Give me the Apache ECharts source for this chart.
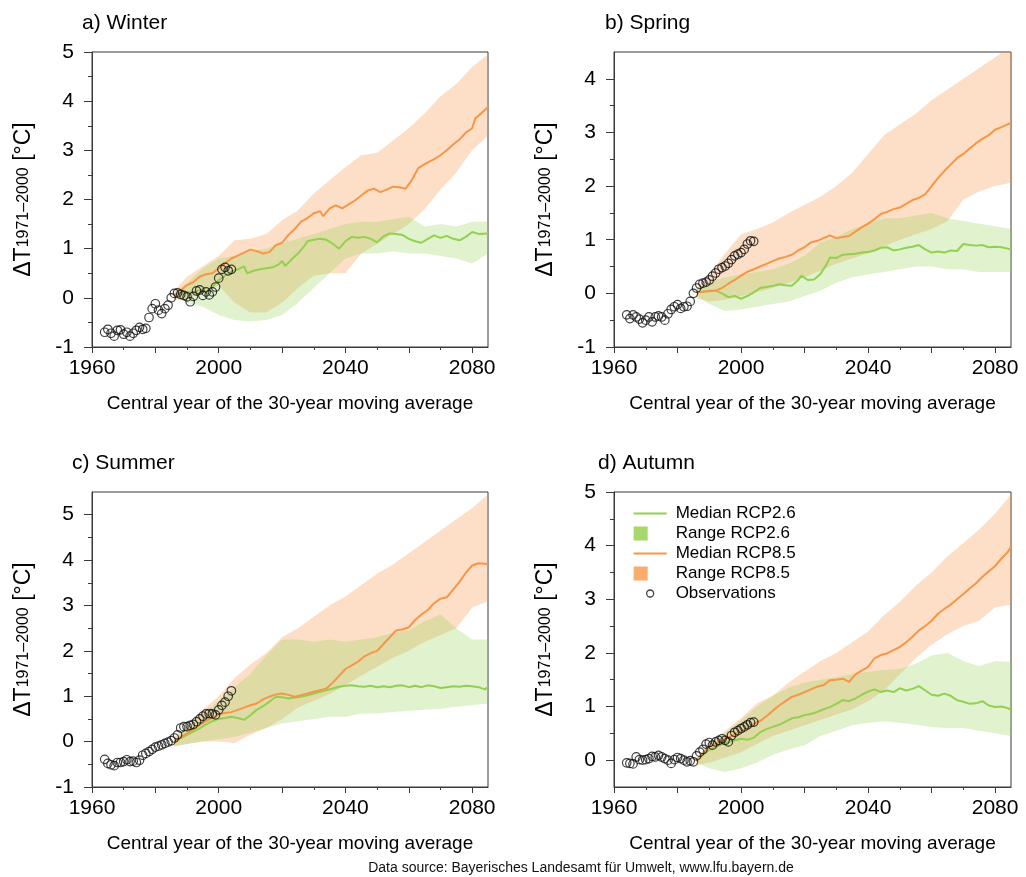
<!DOCTYPE html>
<html><head><meta charset="utf-8">
<script src="https://cdn.jsdelivr.net/npm/echarts@6/dist/echarts.min.js"></script>
<style>html,body{margin:0;padding:0;background:#fff}#c{width:1026px;height:877px}</style>
</head><body><div id="c"></div>
<script>
const FONT = "'Liberation Sans', Arial, sans-serif";

const panelTitles = ['a) Winter', 'b) Spring', 'c) Summer', 'd) Autumn'];
const xAxisName = 'Central year of the 30-year moving average';
const yAxisNameRich = '{a|ΔT}{b|1971–2000}{a| [°C]}';
const sourceText = 'Data source: Bayerisches Landesamt für Umwelt, www.lfu.bayern.de';

const xLabelValues = [1960, 2000, 2040, 2080];
const xMajorTicks = [1960, 1980, 2000, 2020, 2040, 2060, 2080];
const xMinorTicks = [1970, 1990, 2010, 2030, 2050, 2070];

const winterYTicks = [-1, 0, 1, 2, 3, 4, 5];
const winterYMinor = [-0.5, 0.5, 1.5, 2.5, 3.5, 4.5];
const springYTicks = [-1, 0, 1, 2, 3, 4];
const springYMinor = [-0.5, 0.5, 1.5, 2.5, 3.5];
const summerYTicks = [-1, 0, 1, 2, 3, 4, 5];
const summerYMinor = [-0.5, 0.5, 1.5, 2.5, 3.5, 4.5];
const autumnYTicks = [0, 1, 2, 3, 4, 5];
const autumnYMinor = [0.5, 1.5, 2.5, 3.5, 4.5];

const obsYears = [1964,1965,1966,1967,1968,1969,1970,1971,1972,1973,1974,1975,1976,1977,1978,1979,1980,1981,1982,1983,1984,1985,1986,1987,1988,1989,1990,1991,1992,1993,1994,1995,1996,1997,1998,1999,2000,2001,2002,2003,2004];
const bandYears = [1986,1990,1995,2000,2005,2010,2015,2020,2025,2030,2035,2040,2045,2050,2055,2060,2065,2070,2075,2080,2085];

// ---------- Winter ----------
const winterObs = [-0.70,-0.64,-0.72,-0.78,-0.66,-0.65,-0.74,-0.70,-0.78,-0.72,-0.66,-0.60,-0.64,-0.62,-0.40,-0.22,-0.12,-0.25,-0.32,-0.22,-0.15,0.00,0.09,0.10,0.07,0.05,0.02,-0.08,0.03,0.14,0.16,0.05,0.12,0.06,0.12,0.22,0.40,0.58,0.62,0.55,0.58];
const winterMed26 = [[1986,0.05],[1988,0.1],[1990,0.12],[1992,0.1],[1994,0.16],[1996,0.12],[1998,0.22],[2000,0.36],[2002,0.45],[2004,0.53],[2006,0.58],[2008,0.64],[2009,0.5],[2011,0.55],[2013,0.58],[2015,0.6],[2017,0.62],[2019,0.68],[2020,0.75],[2021,0.65],[2023,0.78],[2025,0.9],[2027,1.05],[2028,1.15],[2030,1.18],[2032,1.2],[2034,1.18],[2036,1.1],[2038,1.0],[2040,1.15],[2042,1.24],[2044,1.22],[2046,1.24],[2048,1.2],[2050,1.13],[2052,1.25],[2054,1.31],[2056,1.3],[2058,1.28],[2060,1.2],[2062,1.15],[2064,1.12],[2066,1.2],[2068,1.27],[2070,1.22],[2072,1.26],[2074,1.2],[2076,1.17],[2078,1.24],[2080,1.34],[2082,1.3],[2085,1.31]];
const winterMed85 = [[1986,0.05],[1988,0.15],[1990,0.26],[1992,0.32],[1994,0.43],[1996,0.48],[1998,0.5],[2000,0.6],[2002,0.7],[2004,0.8],[2006,0.86],[2008,0.92],[2010,0.98],[2012,0.95],[2014,0.9],[2016,0.93],[2018,1.07],[2020,1.12],[2022,1.28],[2024,1.4],[2026,1.55],[2028,1.62],[2030,1.72],[2032,1.76],[2033,1.66],[2035,1.82],[2037,1.88],[2039,1.82],[2041,1.9],[2043,1.98],[2045,2.08],[2047,2.18],[2049,2.22],[2051,2.15],[2053,2.2],[2055,2.26],[2057,2.25],[2059,2.22],[2061,2.4],[2063,2.64],[2065,2.72],[2068,2.82],[2070,2.9],[2072,3.0],[2074,3.12],[2076,3.22],[2078,3.36],[2080,3.45],[2081,3.65],[2083,3.76],[2085,3.88]];
const winterLo26 = [0.0,-0.1,-0.18,-0.35,-0.45,-0.48,-0.45,-0.35,-0.1,0.2,0.5,0.8,0.9,0.9,0.95,0.9,0.9,0.85,0.8,0.7,0.9];
const winterHi26 = [0.1,0.3,0.6,0.8,0.85,0.95,1.0,1.1,1.2,1.3,1.4,1.5,1.55,1.55,1.6,1.65,1.45,1.5,1.45,1.55,1.55];
const winterLo85 = [-0.05,-0.02,0.1,0.25,-0.1,-0.3,-0.3,-0.1,0.2,0.45,0.5,0.5,0.9,1.1,1.3,1.5,1.8,2.2,2.55,3.0,3.3];
const winterHi85 = [0.15,0.43,0.65,0.85,1.17,1.2,1.3,1.58,1.78,2.12,2.39,2.66,2.9,2.95,3.2,3.45,3.75,4.1,4.35,4.7,4.95];

// ---------- Spring ----------
const springObs = [-0.40,-0.47,-0.40,-0.44,-0.48,-0.55,-0.50,-0.44,-0.53,-0.44,-0.42,-0.44,-0.50,-0.38,-0.30,-0.25,-0.21,-0.28,-0.25,-0.24,-0.15,0.00,0.10,0.17,0.19,0.21,0.25,0.32,0.38,0.45,0.48,0.51,0.56,0.63,0.70,0.73,0.76,0.82,0.92,0.98,0.97];
const springMed26 = [[1986,0.02],[1988,0.03],[1990,0.04],[1992,0.05],[1994,0.0],[1996,-0.07],[1998,-0.05],[2000,-0.1],[2002,-0.05],[2004,0.02],[2006,0.1],[2008,0.12],[2010,0.14],[2012,0.17],[2014,0.15],[2016,0.14],[2018,0.25],[2019,0.33],[2021,0.25],[2023,0.26],[2025,0.36],[2027,0.55],[2028,0.67],[2030,0.66],[2032,0.72],[2034,0.73],[2036,0.74],[2038,0.76],[2040,0.77],[2042,0.8],[2044,0.85],[2046,0.86],[2048,0.8],[2050,0.82],[2052,0.85],[2054,0.87],[2056,0.9],[2058,0.82],[2060,0.76],[2062,0.78],[2064,0.76],[2066,0.8],[2068,0.79],[2070,0.92],[2072,0.9],[2074,0.89],[2076,0.9],[2078,0.86],[2080,0.87],[2082,0.86],[2085,0.82]];
const springMed85 = [[1986,0.02],[1988,0.03],[1990,0.05],[1992,0.05],[1994,0.1],[1996,0.18],[1998,0.25],[2000,0.33],[2002,0.4],[2004,0.45],[2006,0.5],[2008,0.55],[2010,0.6],[2012,0.65],[2014,0.68],[2016,0.72],[2018,0.8],[2020,0.86],[2022,0.95],[2024,0.98],[2026,1.03],[2028,1.08],[2030,1.03],[2032,1.05],[2034,1.07],[2036,1.15],[2038,1.23],[2040,1.3],[2042,1.38],[2044,1.48],[2046,1.52],[2048,1.57],[2050,1.6],[2052,1.67],[2054,1.74],[2056,1.78],[2058,1.85],[2060,2.0],[2062,2.15],[2064,2.28],[2066,2.4],[2068,2.52],[2070,2.6],[2072,2.7],[2074,2.8],[2076,2.88],[2078,2.95],[2080,3.05],[2082,3.1],[2085,3.18]];
const springLo26 = [-0.05,-0.2,-0.33,-0.3,-0.25,-0.2,-0.15,-0.05,0.05,0.2,0.3,0.35,0.4,0.45,0.5,0.5,0.45,0.45,0.4,0.4,0.4];
const springHi26 = [0.1,0.2,0.3,0.35,0.4,0.45,0.55,0.7,0.95,1.05,1.2,1.3,1.4,1.4,1.45,1.5,1.4,1.35,1.3,1.25,1.2];
const springLo85 = [-0.1,-0.15,-0.12,-0.05,0.02,0.1,0.2,0.3,0.42,0.55,0.65,0.75,0.88,1.0,1.1,1.2,1.35,1.75,1.9,2.0,2.06];
const springHi85 = [0.1,0.35,0.75,1.1,1.2,1.32,1.5,1.65,1.8,2.0,2.25,2.6,2.95,3.15,3.35,3.6,3.8,4.0,4.2,4.4,4.6];

// ---------- Summer ----------
const summerObs = [-0.39,-0.48,-0.51,-0.53,-0.46,-0.46,-0.44,-0.40,-0.44,-0.43,-0.46,-0.41,-0.30,-0.26,-0.22,-0.17,-0.12,-0.10,-0.07,-0.04,-0.01,0.02,0.08,0.15,0.30,0.33,0.33,0.36,0.38,0.44,0.50,0.56,0.61,0.62,0.61,0.59,0.70,0.80,0.87,1.00,1.12];
const summerMed26 = [[1986,0.0],[1988,0.08],[1990,0.15],[1992,0.22],[1994,0.29],[1996,0.38],[1998,0.45],[2000,0.5],[2002,0.52],[2004,0.55],[2006,0.52],[2008,0.48],[2010,0.58],[2012,0.7],[2014,0.78],[2016,0.88],[2018,0.99],[2020,0.98],[2022,0.95],[2024,0.97],[2026,0.99],[2028,1.02],[2030,1.06],[2032,1.1],[2034,1.13],[2036,1.17],[2038,1.21],[2040,1.23],[2042,1.24],[2044,1.22],[2046,1.21],[2048,1.23],[2050,1.2],[2052,1.22],[2054,1.2],[2056,1.23],[2058,1.24],[2060,1.2],[2062,1.23],[2064,1.2],[2066,1.24],[2068,1.22],[2070,1.18],[2072,1.2],[2074,1.22],[2076,1.21],[2078,1.23],[2080,1.22],[2082,1.2],[2084,1.15],[2085,1.2]];
const summerMed85 = [[1986,0.0],[1988,0.1],[1990,0.18],[1992,0.27],[1994,0.37],[1996,0.45],[1998,0.53],[2000,0.6],[2002,0.63],[2004,0.65],[2006,0.7],[2008,0.75],[2010,0.8],[2012,0.84],[2014,0.93],[2016,0.99],[2018,1.04],[2020,1.06],[2022,1.03],[2024,0.99],[2026,1.02],[2028,1.06],[2030,1.1],[2032,1.13],[2034,1.17],[2036,1.3],[2038,1.45],[2040,1.6],[2042,1.68],[2044,1.76],[2046,1.88],[2048,1.95],[2050,2.0],[2052,2.15],[2054,2.3],[2056,2.45],[2058,2.47],[2060,2.52],[2062,2.68],[2064,2.8],[2066,2.9],[2068,3.05],[2070,3.15],[2072,3.18],[2074,3.35],[2076,3.52],[2078,3.72],[2080,3.88],[2082,3.93],[2084,3.92],[2085,3.9]];
const summerLo26 = [-0.1,-0.05,0.0,0.05,0.1,0.2,0.3,0.4,0.45,0.5,0.55,0.55,0.62,0.62,0.65,0.68,0.7,0.72,0.77,0.8,0.84];
const summerHi26 = [0.1,0.35,0.6,0.9,1.2,1.5,1.9,2.25,2.25,2.2,2.25,2.2,2.25,2.3,2.4,2.45,2.65,2.8,2.5,2.25,2.25];
const summerLo85 = [-0.1,-0.05,0.0,0.0,-0.03,0.15,0.3,0.5,0.75,0.9,1.05,1.25,1.45,1.65,1.85,2.0,2.2,2.35,2.5,2.95,3.1];
const summerHi85 = [0.05,0.3,0.7,1.0,1.4,1.7,1.95,2.3,2.5,2.75,3.0,3.2,3.45,3.7,3.9,4.15,4.4,4.65,4.9,5.15,5.45];

// ---------- Autumn ----------
const autumnObs = [-0.05,-0.06,-0.07,0.06,0.01,0.00,0.01,0.03,0.07,0.06,0.09,0.06,0.03,0.00,-0.06,0.01,0.05,0.03,0.00,-0.03,-0.01,-0.03,0.08,0.15,0.20,0.30,0.33,0.28,0.34,0.37,0.40,0.37,0.34,0.46,0.52,0.55,0.59,0.62,0.66,0.70,0.71];
const autumnMed26 = [[1986,0.0],[1988,0.1],[1990,0.19],[1992,0.25],[1994,0.3],[1996,0.34],[1998,0.37],[2000,0.4],[2002,0.38],[2004,0.42],[2006,0.52],[2008,0.58],[2010,0.62],[2012,0.66],[2014,0.72],[2016,0.78],[2018,0.8],[2020,0.84],[2022,0.86],[2024,0.9],[2026,0.95],[2028,0.99],[2030,1.05],[2032,1.12],[2034,1.1],[2036,1.15],[2038,1.22],[2040,1.28],[2042,1.32],[2044,1.27],[2046,1.3],[2048,1.27],[2050,1.34],[2052,1.3],[2054,1.33],[2056,1.38],[2058,1.3],[2060,1.22],[2062,1.2],[2064,1.24],[2066,1.2],[2068,1.12],[2070,1.09],[2072,1.05],[2074,1.06],[2076,1.1],[2078,1.02],[2080,0.99],[2082,1.0],[2084,0.97],[2085,0.94]];
const autumnMed85 = [[1986,0.0],[1988,0.12],[1990,0.25],[1992,0.3],[1994,0.36],[1996,0.42],[1998,0.48],[2000,0.54],[2002,0.6],[2004,0.68],[2006,0.73],[2008,0.82],[2010,0.92],[2012,1.02],[2014,1.1],[2016,1.18],[2018,1.22],[2020,1.27],[2022,1.32],[2024,1.37],[2026,1.4],[2028,1.49],[2030,1.5],[2032,1.52],[2034,1.46],[2036,1.6],[2038,1.67],[2040,1.74],[2042,1.9],[2044,1.96],[2046,1.99],[2048,2.05],[2050,2.11],[2052,2.2],[2054,2.3],[2056,2.42],[2058,2.5],[2060,2.6],[2062,2.73],[2064,2.82],[2066,2.9],[2068,3.0],[2070,3.1],[2072,3.2],[2074,3.3],[2076,3.42],[2078,3.52],[2080,3.62],[2082,3.76],[2084,3.88],[2085,3.98]];
const autumnLo26 = [-0.05,-0.15,-0.22,-0.15,-0.05,0.1,0.2,0.28,0.45,0.55,0.65,0.7,0.72,0.7,0.66,0.62,0.6,0.6,0.55,0.5,0.45];
const autumnHi26 = [0.05,0.3,0.5,0.75,1.0,1.2,1.35,1.45,1.5,1.55,1.6,1.65,1.68,1.7,1.8,1.95,2.0,1.85,1.75,1.85,1.83];
const autumnLo85 = [-0.1,-0.05,0.05,0.15,0.3,0.45,0.55,0.65,0.75,0.85,0.95,1.1,1.3,1.6,1.9,2.15,2.35,2.5,2.6,2.85,2.9];
const autumnHi85 = [0.05,0.3,0.55,0.78,1.06,1.2,1.45,1.65,1.85,2.0,2.2,2.4,2.7,2.95,3.25,3.5,3.8,4.05,4.3,4.6,4.95];

// ---------- layout / style ----------
const GREEN = '#92D050', ORANGE = '#F79646';
const GREEN_FILL = 'rgba(146,208,80,0.28)', ORANGE_FILL = 'rgba(247,150,70,0.30)';
const GREEN_KEY = '#A6D86E', ORANGE_KEY = '#F9AC6C';
const AXIS_COLOR = '#3a3a3a';
const LINE_ICON = 'path://M0,6H33V8H0Z M0,0L0,0 M33,14L33,14';
const SQUARE_ICON = 'path://M0,0H14V14H0Z M33,14L33,14';
const CIRCLE_ICON = 'path://M13,7a3.5,3.5 0 1,0 7,0a3.5,3.5 0 1,0 -7,0Z M0,0L0,0 M33,14L33,14';

const panels = [
  {obs: winterObs, m26: winterMed26, m85: winterMed85, lo26: winterLo26, hi26: winterHi26, lo85: winterLo85, hi85: winterHi85, yMin: -1, yMax: 5, yTicks: winterYTicks, yMinor: winterYMinor, grid: {left: 92, top: 52, width: 396, height: 295}, title: {left: 77, top: 8}},
  {obs: springObs, m26: springMed26, m85: springMed85, lo26: springLo26, hi26: springHi26, lo85: springLo85, hi85: springHi85, yMin: -1, yMax: 4.5, yTicks: springYTicks, yMinor: springYMinor, grid: {left: 614, top: 52, width: 397, height: 295}, title: {left: 600, top: 8}},
  {obs: summerObs, m26: summerMed26, m85: summerMed85, lo26: summerLo26, hi26: summerHi26, lo85: summerLo85, hi85: summerHi85, yMin: -1, yMax: 5.5, yTicks: summerYTicks, yMinor: summerYMinor, grid: {left: 92, top: 492, width: 396, height: 295}, title: {left: 67, top: 448}},
  {obs: autumnObs, m26: autumnMed26, m85: autumnMed85, lo26: autumnLo26, hi26: autumnHi26, lo85: autumnLo85, hi85: autumnHi85, yMin: -0.5, yMax: 5, yTicks: autumnYTicks, yMinor: autumnYMinor, grid: {left: 614, top: 492, width: 397, height: 295}, title: {left: 593, top: 448}}
];

function bandSeries(name, gi, lo, hi, fill, keyColor) {
  return {
    type: 'custom', name: name, xAxisIndex: gi * 2, yAxisIndex: gi * 2,
    z: 1, silent: true, clip: true,
    itemStyle: {color: keyColor},
    data: bandYears.map((y, i) => [y, lo[i], hi[i]]),
    encode: {x: 0, y: [1, 2]},
    renderItem: function (params, api) {
      if (params.dataIndex !== 0) return;
      const pts = [];
      for (let i = 0; i < bandYears.length; i++) pts.push(api.coord([bandYears[i], hi[i]]));
      for (let i = bandYears.length - 1; i >= 0; i--) pts.push(api.coord([bandYears[i], lo[i]]));
      return {type: 'polygon', shape: {points: pts}, style: {fill: fill}};
    }
  };
}

const grid = [], xAxis = [], yAxis = [], series = [], title = [];
panels.forEach((p, gi) => {
  grid.push(Object.assign({show: true, borderColor: AXIS_COLOR, borderWidth: 1, backgroundColor: 'transparent'}, p.grid));
  title.push({text: panelTitles[gi], left: p.title.left, top: p.title.top,
    textStyle: {fontFamily: FONT, fontSize: 21, fontWeight: 'normal', color: '#000'}});
  xAxis.push({
    type: 'value', gridIndex: gi, min: 1960, max: 2085, position: 'bottom',
    axisLine: {show: true, onZero: false, lineStyle: {color: AXIS_COLOR, width: 1}},
    axisTick: {show: true, length: 6, customValues: xMajorTicks, lineStyle: {color: AXIS_COLOR}},
    axisLabel: {customValues: xLabelValues, formatter: v => String(v), fontFamily: FONT, fontSize: 21, color: '#000', margin: 11},
    splitLine: {show: false},
    name: xAxisName, nameLocation: 'middle', nameGap: 47,
    nameTextStyle: {fontFamily: FONT, fontSize: 19, color: '#000'}
  });
  xAxis.push({
    type: 'value', gridIndex: gi, min: 1960, max: 2085, position: 'bottom',
    axisLine: {show: false, onZero: false},
    axisTick: {show: true, length: 3, customValues: xMinorTicks, lineStyle: {color: AXIS_COLOR}},
    axisLabel: {show: false}, splitLine: {show: false}
  });
  yAxis.push({
    type: 'value', gridIndex: gi, min: p.yMin, max: p.yMax, position: 'left',
    axisLine: {show: true, onZero: false, lineStyle: {color: AXIS_COLOR, width: 1}},
    axisTick: {show: true, length: 8, customValues: p.yTicks, lineStyle: {color: AXIS_COLOR}},
    axisLabel: {customValues: p.yTicks, formatter: v => String(v), fontFamily: FONT, fontSize: 21, color: '#000', margin: 18},
    splitLine: {show: false},
    name: yAxisNameRich, nameLocation: 'middle', nameGap: 57,
    nameTextStyle: {fontFamily: FONT, color: '#000',
      rich: {a: {fontFamily: FONT, fontSize: 23, color: '#000'}, b: {fontFamily: FONT, fontSize: 16, color: '#000'}}}
  });
  yAxis.push({
    type: 'value', gridIndex: gi, min: p.yMin, max: p.yMax, position: 'left',
    axisLine: {show: false, onZero: false},
    axisTick: {show: true, length: 4, customValues: p.yMinor, lineStyle: {color: AXIS_COLOR}},
    axisLabel: {show: false}, splitLine: {show: false}
  });

  series.push(bandSeries('Range RCP8.5', gi, p.lo85, p.hi85, ORANGE_FILL, ORANGE_KEY));
  series.push(bandSeries('Range RCP2.6', gi, p.lo26, p.hi26, GREEN_FILL, GREEN_KEY));
  series.push({type: 'line', name: 'Median RCP2.6', xAxisIndex: gi * 2, yAxisIndex: gi * 2, z: 2,
    data: p.m26, symbol: 'none', showSymbol: false, silent: true, lineStyle: {color: GREEN, width: 2}, itemStyle: {color: GREEN}});
  series.push({type: 'line', name: 'Median RCP8.5', xAxisIndex: gi * 2, yAxisIndex: gi * 2, z: 2,
    data: p.m85, symbol: 'none', showSymbol: false, silent: true, lineStyle: {color: ORANGE, width: 2}, itemStyle: {color: ORANGE}});
  series.push({type: 'scatter', name: 'Observations', xAxisIndex: gi * 2, yAxisIndex: gi * 2, z: 3,
    data: obsYears.map((y, i) => [y, p.obs[i]]), symbol: 'circle', symbolSize: 8.5, silent: true,
    itemStyle: {color: 'rgba(0,0,0,0)', borderColor: '#111', borderWidth: 1.2}});
});

const option = {
  animation: false,
  backgroundColor: '#fff',
  title: title,
  grid: grid, xAxis: xAxis, yAxis: yAxis, series: series,
  legend: {
    orient: 'vertical', left: 628, top: 500, itemWidth: 33, itemHeight: 14, itemGap: 3,
    selectedMode: false,
    textStyle: {fontFamily: FONT, fontSize: 17, lineHeight: 17, color: '#000', padding: [0, 0, 0, 4]},
    data: [
      {name: 'Median RCP2.6', icon: LINE_ICON, itemStyle: {color: GREEN}},
      {name: 'Range RCP2.6', icon: SQUARE_ICON, itemStyle: {color: GREEN_KEY}},
      {name: 'Median RCP8.5', icon: LINE_ICON, itemStyle: {color: ORANGE}},
      {name: 'Range RCP8.5', icon: SQUARE_ICON, itemStyle: {color: ORANGE_KEY}},
      {name: 'Observations', icon: CIRCLE_ICON,
        itemStyle: {color: 'rgba(0,0,0,0)', borderColor: '#111', borderWidth: 1.3}}
    ]
  },
  graphic: [{type: 'text', x: 581, y: 868,
    style: {text: sourceText, fontFamily: FONT, fontSize: 14, fill: '#111', align: 'center', verticalAlign: 'middle'}}]
};

const chart = echarts.init(document.getElementById('c'), null, {renderer: 'canvas'});
chart.setOption(option);
</script></body></html>
